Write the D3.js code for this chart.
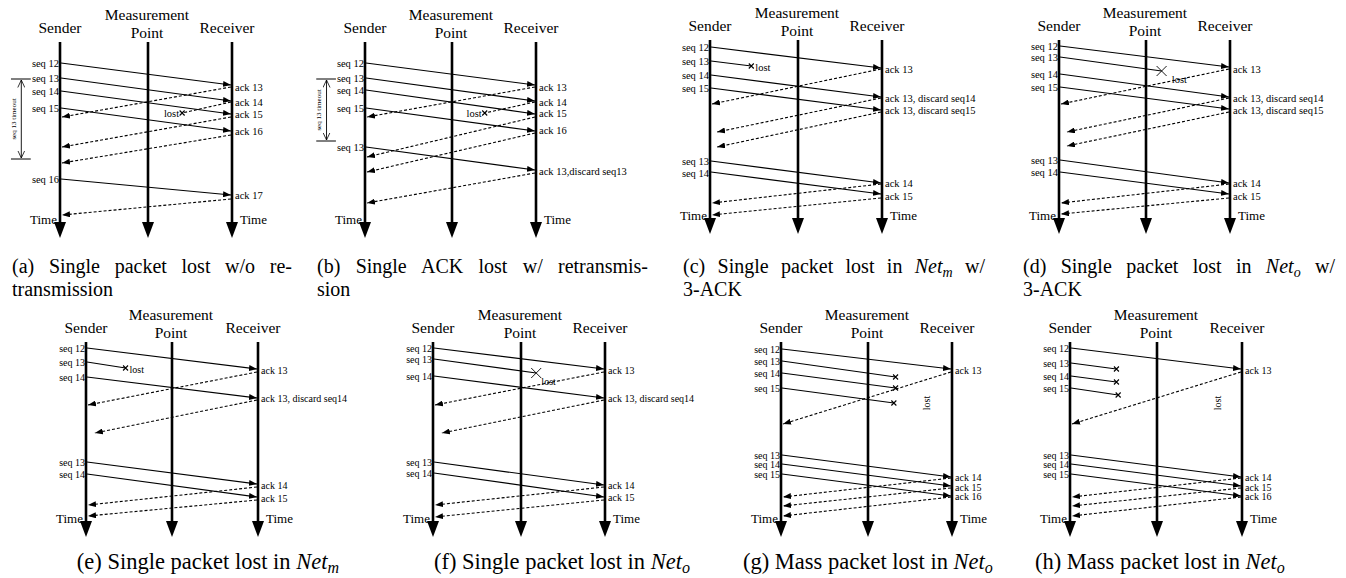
<!DOCTYPE html>
<html lang="en">
<head>
<meta charset="utf-8">
<title>Packet loss cases</title>
<script src="https://d3js.org/d3.v7.min.js"></script>
<style>
  body { margin: 0; background: #fff; }
  svg text { font-family: "Liberation Serif", "Times New Roman", "DejaVu Serif", serif; fill: #000; }
</style>
</head>
<body>
<svg id="fig" width="1346" height="578" font-family="Liberation Serif, serif"></svg>
<script>
// ---- data (times in px below the top of each row, lanes 0 = sender, 1 = receiver) ----
var laneNames = ["Sender", "Measurement", "Point", "Receiver"];

// messages: [time at origin, time at end, lane where it stops]
var seqA = [[22,44,1],[37,60,1],[50,73,1],[67,90,1],[138,154,1]];
var ackA = [[46,76,0],[61,72,0.71],[76,106,0],[94,122,0],[158,174,0]];
var seqLblA = [["seq 12",22],["seq 13",37],["seq 14",50],["seq 15",67],["seq 16",138]];
var ackLblA = [["ack 13",46],["ack 14",61],["ack 15",73],["ack 16",90],["ack 17",154]];

var seqB = [[22,44,1],[37,60,1],[49,73,1],[67,90,1],[106,129,1]];
var ackB = [[46,76,0],[61,72,0.70],[76,116,0],[92,131,0],[132,162,0]];
var seqLblB = [["seq 12",22],["seq 13",37],["seq 14",49],["seq 15",67],["seq 13",106]];
var ackLblB = [["ack 13",46],["ack 14",61],["ack 15",72],["ack 16",89],["ack 13,discard seq13",130]];

var seqC = [[6,27,1],[20,25,0.24],[34,56,1],[47,69,1],[120,142,1],[131,153,1]];
var ackC = [[28,63,0],[57,91,0.03],[71,106,0.03],[143,162,0],[157,174,0]];
var seqLblC = [["seq 12",6],["seq 13",20],["seq 14",34],["seq 15",47],["seq 13",120],["seq 14",132]];
var ackLblC = [["ack 13",28],["ack 13, discard seq14",57],["ack 13, discard seq15",69],["ack 14",142],["ack 15",155]];

var seqD = [[5,26,1],[16,30,0.60],[33,56,1],[46,68,1],[119,142,1],[131,153,1]];
var ackD = [[28,63,0],[57,91,0.035],[71,105,0.035],[143,162,0],[157,173,0]];
var seqLblD = [["seq 12",5],["seq 13",16],["seq 14",33],["seq 15",46],["seq 13",119],["seq 14",131]];
var ackLblD = [["ack 13",28],["ack 13, discard seq14",57],["ack 13, discard seq15",69],["ack 14",142],["ack 15",155]];

var seqE = [[6,27,1],[20,26,0.23],[35,56,1],[120,142,1],[132,155,1]];
var ackE = [[30,63,0],[58,91,0.04],[145,163,0],[158,174,0]];
var seqLblE = [["seq 12",6],["seq 13",20],["seq 14",35],["seq 13",120],["seq 14",132]];
var ackLblE = [["ack 13",28],["ack 13, discard seq14",56],["ack 14",143],["ack 15",156]];

var seqF = [[6,27,1],[17,31,0.60],[34,56,1],[120,143,1],[131,155,1]];
var ackF = [[30,63,0],[58,91,0.04],[145,163,0],[158,175,0]];
var seqLblF = [["seq 12",6],["seq 13",17],["seq 14",34],["seq 13",120],["seq 14",131]];
var ackLblF = [["ack 13",28],["ack 13, discard seq14",56],["ack 14",143],["ack 15",155]];

var seqG = [[7,27,1],[19,35,0.67],[31,46,0.67],[46,61,0.66],[113,135,1],[122,144,1],[132,154,1]];
var ackG = [[30,82,0],[136,155,0],[146,164,0],[155,174,0]];
var seqLblG = [["seq 12",7],["seq 13",19],["seq 14",31],["seq 15",46],["seq 13",113],["seq 14",122],["seq 15",132]];
var ackLblG = [["ack 13",28],["ack 14",135],["ack 15",145],["ack 16",154]];

var seqH = [[6,27,1],[21,27,0.27],[34,40,0.27],[46,53,0.28],[113,135,1],[122,144,1],[132,154,1]];
var ackH = [[30,82,0],[136,155,0],[146,164,0],[155,174,0]];
var seqLblH = [["seq 12",6],["seq 13",21],["seq 14",34],["seq 15",46],["seq 13",113],["seq 14",122],["seq 15",132]];
var ackLblH = [["ack 13",28],["ack 14",135],["ack 15",145],["ack 16",154]];

// "lost" notes: [text, lane, time, kind]
var lostA = [["lost", 0.71, 72, "left"]];
var lostB = [["lost", 0.70, 72, "left"]];
var lostC = [["lost", 0.24, 25, "right"]];
var lostD = [["lost", 0.66, 35, "below"]];
var lostE = [["lost", 0.23, 26, "right"]];
var lostF = [["lost", 0.63, 36, "below"]];
var lostG = [["lost", 0.85, 61, "vertical"]];
var lostH = [["lost", 0.86, 61, "vertical"]];

// retransmission timeout [start, end]
var timeoutA = [38, 118];
var timeoutB = [38, 100];

var capTop = [
  ["(a) Single packet lost w/o re-", "transmission"],
  ["(b) Single ACK lost w/ retransmis-", "sion"],
  ["(c) Single packet lost in Net_m w/", "3-ACK"],
  ["(d) Single packet lost in Net_o w/", "3-ACK"]
];
var capBottom = [
  "(e) Single packet lost in Net_m",
  "(f) Single packet lost in Net_o",
  "(g) Mass packet lost in Net_o",
  "(h) Mass packet lost in Net_o"
];

// ---- layout ----
var layout = {
  a: {S: 60,   M: 148,  R: 232,  row: 41,  top: 42,  tip: 238, cross: 2.5, font: 10.5},
  b: {S: 365,  M: 452,  R: 536,  row: 41,  top: 42,  tip: 238, cross: 2.5, font: 10.5},
  c: {S: 710,  M: 798,  R: 882,  row: 41,  top: 40,  tip: 234, cross: 2.5, font: 10.5},
  d: {S: 1059, M: 1146, R: 1230, row: 41,  top: 40,  tip: 234, cross: 5,   font: 10.5},
  e: {S: 86,   M: 172,  R: 258,  row: 342, top: 342, tip: 537, cross: 2.5, font: 10},
  f: {S: 433,  M: 521,  R: 605,  row: 342, top: 342, tip: 537, cross: 5,   font: 10},
  g: {S: 781,  M: 868,  R: 952,  row: 342, top: 342, tip: 537, cross: 2.5, font: 10},
  h: {S: 1070, M: 1157, R: 1242, row: 342, top: 342, tip: 537, cross: 2.5, font: 10}
};
var capTopBox = [[12, 292], [317, 648], [683, 985], [1023, 1335]];
var capBottomPos = [[339, "end"], [690, "end"], [743, "start"], [1035, "start"]];

var panels = {
  a: {seq: seqA, ack: ackA, sl: seqLblA, al: ackLblA, lost: lostA, timeout: timeoutA},
  b: {seq: seqB, ack: ackB, sl: seqLblB, al: ackLblB, lost: lostB, timeout: timeoutB},
  c: {seq: seqC, ack: ackC, sl: seqLblC, al: ackLblC, lost: lostC},
  d: {seq: seqD, ack: ackD, sl: seqLblD, al: ackLblD, lost: lostD},
  e: {seq: seqE, ack: ackE, sl: seqLblE, al: ackLblE, lost: lostE},
  f: {seq: seqF, ack: ackF, sl: seqLblF, al: ackLblF, lost: lostF},
  g: {seq: seqG, ack: ackG, sl: seqLblG, al: ackLblG, lost: lostG},
  h: {seq: seqH, ack: ackH, sl: seqLblH, al: ackLblH, lost: lostH}
};

var svg = d3.select("#fig");

// arrow markers
var defs = svg.append("defs");
defs.append("marker")
  .attr("id", "head")
  .attr("markerUnits", "userSpaceOnUse")
  .attr("viewBox", "0 0 8 6")
  .attr("markerWidth", 8).attr("markerHeight", 6)
  .attr("refX", 8).attr("refY", 3)
  .attr("orient", "auto")
  .append("path").attr("d", "M0,0L8,3L0,6Z").attr("fill", "#000");
defs.append("marker")
  .attr("id", "open")
  .attr("markerUnits", "userSpaceOnUse")
  .attr("viewBox", "0 0 8 8")
  .attr("markerWidth", 8).attr("markerHeight", 8)
  .attr("refX", 7.5).attr("refY", 4)
  .attr("orient", "auto-start-reverse")
  .append("path").attr("d", "M0,0.5L7.5,4L0,7.5").attr("fill", "none")
  .attr("stroke", "#000").attr("stroke-width", 0.8);

function drawPanel(id) {
  var L = layout[id], P = panels[id];
  var g = svg.append("g").attr("class", "panel-" + id);
  var x = d3.scaleLinear().domain([0, 1]).range([L.S, L.R]);
  var y = d3.scaleLinear().domain([0, 196]).range([L.row, L.row + 196]);

  // headers
  g.append("text").attr("x", L.S).attr("y", L.top - 9).attr("text-anchor", "middle")
    .style("font-size", "15.5px").text(laneNames[0]);
  g.append("text").attr("x", L.M - 1).attr("y", L.top - 22).attr("text-anchor", "middle")
    .style("font-size", "15.5px").text(laneNames[1]);
  g.append("text").attr("x", L.M - 1).attr("y", L.top - 4).attr("text-anchor", "middle")
    .style("font-size", "15.5px").text(laneNames[2]);
  g.append("text").attr("x", L.R - 5).attr("y", L.top - 9).attr("text-anchor", "middle")
    .style("font-size", "15.5px").text(laneNames[3]);

  // time lines
  [L.S, L.M, L.R].forEach(function(lx) {
    g.append("line").attr("x1", lx).attr("x2", lx)
      .attr("y1", L.top).attr("y2", L.tip - 14)
      .attr("stroke", "#000").attr("stroke-width", 2.6);
    g.append("path")
      .attr("d", "M" + (lx - 6) + "," + (L.tip - 16) + "L" + (lx + 6) + "," + (L.tip - 16) + "L" + lx + "," + L.tip + "Z")
      .attr("fill", "#000");
  });
  g.append("text").attr("x", L.S - 3).attr("y", L.tip - 14).attr("text-anchor", "end")
    .style("font-size", "13px").text("Time");
  g.append("text").attr("x", L.R + 8).attr("y", L.tip - 14)
    .style("font-size", "13px").text("Time");

  function cross(cx, cy) {
    var s = L.cross;
    g.append("path")
      .attr("d", "M" + (cx - s) + "," + (cy - s) + "L" + (cx + s) + "," + (cy + s) +
                 "M" + (cx - s) + "," + (cy + s) + "L" + (cx + s) + "," + (cy - s))
      .attr("stroke", "#000").attr("stroke-width", s > 3 ? 0.9 : 1.1);
  }

  // data packets, sender -> receiver
  P.seq.forEach(function(m) {
    var done = m[2] >= 1;
    var ln = g.append("line")
      .attr("x1", x(0) + 1).attr("y1", y(m[0]))
      .attr("x2", done ? x(1) - 1 : x(m[2])).attr("y2", y(m[1]))
      .attr("stroke", "#000").attr("stroke-width", 1.2);
    if (done) ln.attr("marker-end", "url(#head)");
    else cross(x(m[2]), y(m[1]));
  });

  // acks, receiver -> sender
  P.ack.forEach(function(m) {
    var lost = m[2] > 0.3;
    var ln = g.append("line")
      .attr("x1", x(1) - 1).attr("y1", y(m[0]))
      .attr("x2", lost ? x(m[2]) : x(m[2]) + 2).attr("y2", y(m[1]))
      .attr("stroke", "#000").attr("stroke-width", 1.1)
      .attr("stroke-dasharray", "3,2");
    if (lost) cross(x(m[2]), y(m[1]));
    else ln.attr("marker-end", "url(#head)");
  });

  // labels
  g.selectAll(".sl").data(P.sl).enter().append("text")
    .attr("x", x(0) - 1).attr("y", function(d) { return y(d[1]); })
    .attr("dy", "0.35em").attr("text-anchor", "end")
    .style("font-size", L.font + "px").text(function(d) { return d[0]; });
  g.selectAll(".al").data(P.al).enter().append("text")
    .attr("x", x(1) + 3).attr("y", function(d) { return y(d[1]); })
    .attr("dy", "0.35em")
    .style("font-size", L.font + "px").text(function(d) { return d[0]; });

  P.lost.forEach(function(n) {
    var lx = x(n[1]), ly = y(n[2]);
    var t = g.append("text").style("font-size", L.font + "px").text(n[0]);
    if (n[3] === "left") t.attr("x", lx - 3).attr("y", ly).attr("dy", "0.35em").attr("text-anchor", "end");
    else if (n[3] === "right") t.attr("x", lx + 4).attr("y", ly + 1).attr("dy", "0.35em");
    else if (n[3] === "below") t.attr("x", lx).attr("y", ly).attr("dy", "0.7em");
    else t.attr("transform", "translate(" + lx + "," + ly + ") rotate(-90)")
      .attr("text-anchor", "middle").attr("dy", "0.35em");
  });

  // timeout bracket
  if (P.timeout) {
    var tx0 = x(-0.285), tx1 = x(-0.17), vx = x(-0.225);
    P.timeout.forEach(function(t) {
      g.append("line").attr("x1", tx0).attr("x2", tx1).attr("y1", y(t)).attr("y2", y(t))
        .attr("stroke", "#000").attr("stroke-width", 1);
    });
    g.append("line").attr("x1", vx).attr("x2", vx)
      .attr("y1", y(P.timeout[0]) + 1).attr("y2", y(P.timeout[1]) - 1)
      .attr("stroke", "#000").attr("stroke-width", 0.9)
      .attr("marker-start", "url(#open)").attr("marker-end", "url(#open)");
    var my = (y(P.timeout[0]) + y(P.timeout[1])) / 2;
    g.append("text")
      .attr("transform", "translate(" + x(-0.272) + "," + my + ") rotate(-90)")
      .attr("text-anchor", "middle").attr("dy", "0.35em")
      .style("font-size", "7px").text("seq 13 timeout");
  }
}

Object.keys(layout).forEach(drawPanel);

// captions, with Net_m / Net_o set as math
function caption(str, px, py, anchor, size) {
  var t = svg.append("text").attr("x", px).attr("y", py)
    .attr("text-anchor", anchor).style("font-size", size + "px");
  var parts = str.split(/(Net_[mo])/);
  var shift = 0;
  parts.forEach(function(p) {
    if (!p) return;
    var m = p.match(/^Net_([mo])$/);
    if (m) {
      t.append("tspan").attr("dy", -shift).style("font-style", "italic").text("Net");
      t.append("tspan").attr("dy", 4).style("font-style", "italic")
        .style("font-size", Math.round(size * 0.7) + "px").text(m[1]);
      shift = 4;
    } else {
      t.append("tspan").attr("dy", -shift).text(p);
      shift = 0;
    }
  });
  return t;
}

capTop.forEach(function(lines, i) {
  var box = capTopBox[i];
  var t1 = caption(lines[0], box[0], 273, "start", 20);
  var natural = t1.node().getComputedTextLength();
  var gaps = (lines[0].match(/ /g) || []).length;
  t1.style("word-spacing", ((box[1] - box[0] - natural) / gaps) + "px");
  caption(lines[1], box[0], 296, "start", 20);
});

capBottom.forEach(function(s, i) {
  caption(s, capBottomPos[i][0], 569, capBottomPos[i][1], 22.5);
});
</script>
</body>
</html>
